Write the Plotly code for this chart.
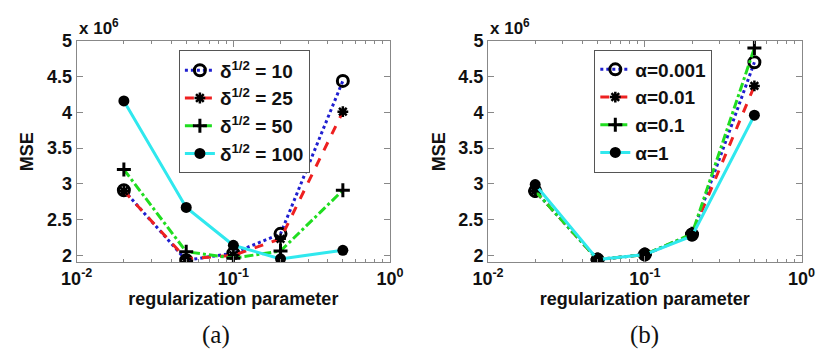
import plotly.graph_objects as go

reg = [0.02, 0.05, 0.1, 0.2, 0.5]

# Panel (a): different delta^(1/2)
delta_labels = ["δ<sup>1/2</sup> = 10", "δ<sup>1/2</sup> = 25", "δ<sup>1/2</sup> = 50", "δ<sup>1/2</sup> = 100"]
delta_10 = [2.91, 1.93, 2.03, 2.30, 4.44]
delta_25 = [2.90, 1.95, 2.00, 2.23, 4.01]
delta_50 = [3.20, 2.05, 1.96, 2.06, 2.91]
delta_100 = [4.16, 2.67, 2.14, 1.95, 2.07]

# Panel (b): different alpha
alpha_labels = ["α=0.001", "α=0.01", "α=0.1", "α=1"]
alpha_0001 = [2.90, 1.94, 2.01, 2.29, 4.70]
alpha_001 = [2.90, 1.94, 2.01, 2.29, 4.37]
alpha_01 = [2.90, 1.94, 2.01, 2.30, 4.90]
alpha_1 = [2.99, 1.94, 2.01, 2.27, 3.96]

yticks = [2, 2.5, 3, 3.5, 4, 4.5, 5]
xticks = [0.01, 0.1, 1]
xticklabels = ["10<sup>-2</sup>", "10<sup>-1</sup>", "10<sup>0</sup>"]
xminor = [m * d for d in (0.01, 0.1) for m in range(2, 10)]

styles = [
    dict(color="#1f1fd0", dash="dot", marker=dict(symbol="circle-open", size=11, color="black", line=dict(width=3, color="black"))),
    dict(color="#ee2020", dash="dash", marker=dict(symbol="asterisk-open", size=9, color="black", line=dict(width=2.5, color="black"))),
    dict(color="#20dd20", dash="dashdot", marker=dict(symbol="cross-thin-open", size=10, color="black", line=dict(width=3, color="black"))),
    dict(color="#30e8ee", dash="solid", marker=dict(symbol="circle", size=11, color="black", line=dict(width=0, color="black"))),
]

fig = go.Figure()

def add(series, labels, xa, ya, legend):
    for s, lab, st in zip(series, labels, styles):
        fig.add_trace(go.Scatter(
            x=reg, y=s, name=lab, mode="lines+markers",
            line=dict(color=st["color"], dash=st["dash"], width=3),
            marker=st["marker"], xaxis=xa, yaxis=ya, legend=legend))

add([delta_10, delta_25, delta_50, delta_100], delta_labels, "x", "y", "legend")
add([alpha_0001, alpha_001, alpha_01, alpha_1], alpha_labels, "x2", "y2", "legend2")

def font_tick():
    return dict(family="Liberation Sans", size=18, color="#111", weight="bold")

def font_title():
    return dict(family="Liberation Sans", size=18, color="#111", weight="bold")

def xaxis(domain, anchor):
    return dict(
        domain=domain, anchor=anchor, type="log", range=[-2, 0],
        tickvals=xticks, ticktext=["<b>%s</b>" % t for t in xticklabels],
        ticks="inside", ticklen=6, tickcolor="#888", showline=True, linecolor="#888", linewidth=1,
        mirror="ticks", showgrid=False, zeroline=False, tickfont=font_tick(),
        minor=dict(ticks="inside", ticklen=3, tickcolor="#888", showgrid=False, tickvals=xminor),
        title=dict(text="regularization parameter", font=font_title(), standoff=0),
    )

def yaxis(domain, anchor):
    return dict(
        domain=domain, anchor=anchor, range=[1.9, 5],
        tickvals=yticks, ticktext=["<b>%g</b>" % v for v in yticks],
        ticks="inside", ticklen=6, tickcolor="#888", showline=True, linecolor="#888", linewidth=1,
        mirror="ticks", showgrid=False, zeroline=False, tickfont=font_tick(),
        title=dict(text="MSE", font=font_title(), standoff=8),
    )

def legend_at(x, y):
    return dict(x=x, y=y, xanchor="left", yanchor="top", bgcolor="white", bordercolor="#555", borderwidth=1,
                font=dict(family="Liberation Sans", size=19, color="#111", weight="bold"),
                tracegroupgap=0, itemwidth=30)

fig.update_layout(
    width=830, height=356, margin=dict(l=0, r=0, t=0, b=0),
    paper_bgcolor="white", plot_bgcolor="white",
    xaxis=xaxis([0.0759, 0.4675], "y"),
    yaxis=yaxis([0.264, 0.910], "x"),
    xaxis2=xaxis([0.590, 0.982], "y2"),
    yaxis2=yaxis([0.264, 0.910], "x2"),
    legend=legend_at(169/830, 1 - 42/356),
    legend2=legend_at(600/830, 1 - 41/356),
    annotations=[
        dict(text="<b>x 10<sup>6</sup></b>", x=63/830, y=1 - 31/356, xref="paper", yref="paper",
             xanchor="left", yanchor="bottom", showarrow=False,
             font=dict(family="Liberation Sans", size=17, color="#111", weight="bold")),
        dict(text="<b>x 10<sup>6</sup></b>", x=490/830, y=1 - 31/356, xref="paper", yref="paper",
             xanchor="left", yanchor="bottom", showarrow=False,
             font=dict(family="Liberation Sans", size=17, color="#111", weight="bold")),
        dict(text="(a)", x=207/830, y=1 - 337/356, xref="paper", yref="paper",
             xanchor="center", yanchor="middle", showarrow=False, font=dict(family="Liberation Serif", size=25, color="#111")),
        dict(text="(b)", x=652/830, y=1 - 337/356, xref="paper", yref="paper",
             xanchor="center", yanchor="middle", showarrow=False, font=dict(family="Liberation Serif", size=25, color="#111")),
    ],
)

fig.write_html("out.html")
